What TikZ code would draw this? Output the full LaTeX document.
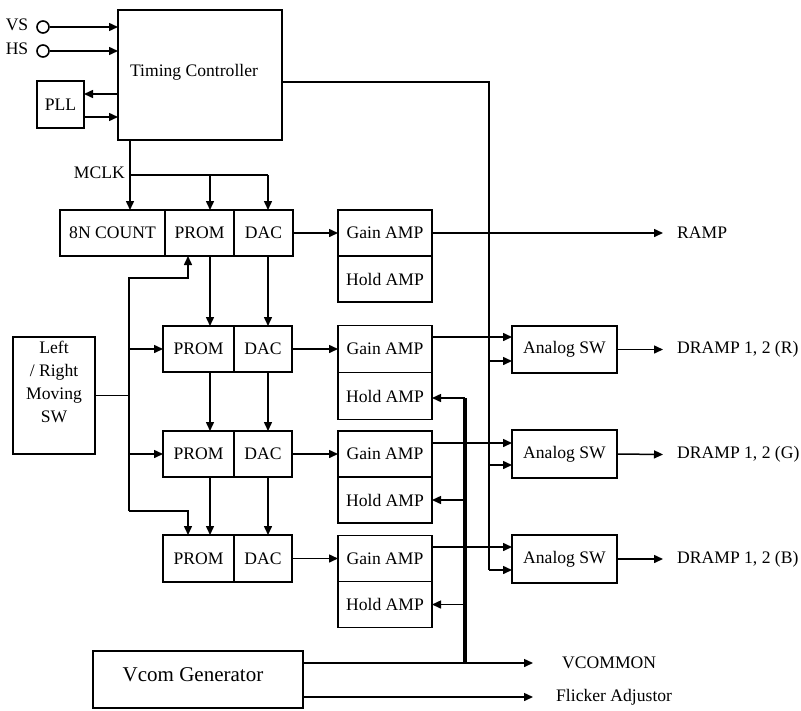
\documentclass[tikz,border=0pt]{standalone}
\usepackage{fontspec}
\setmainfont{Liberation Serif}
\usetikzlibrary{arrows.meta,calc}
\begin{document}
\begin{tikzpicture}[x=1pt,y=-1pt,
 bx/.style={draw, line width=1.6pt, inner sep=0pt, outer sep=0pt, font=\fontsize{17.6}{20}\selectfont},
 lbl/.style={inner sep=0pt, font=\fontsize{17.6}{20}\selectfont},
 ln/.style={line width=1.5pt},
 arr/.style={line width=1.5pt, -{Triangle[length=9pt,width=8pt]}},
 thk/.style={line width=3.2pt}]
\useasboundingbox (0,0) rectangle (801,710);

% --- timing controller, inputs, PLL
\node[bx, minimum width=164pt, minimum height=130pt] (tc) at (200,75) {};
\node[lbl] (tclbl) at (194,72) {Timing Controller};
\node[bx, minimum width=47pt, minimum height=47pt] (pll) at (60.5,104.5) {PLL};
\node[lbl] (vs) at (17,25) {VS};
\node[lbl] (hs) at (17,49) {HS};
\node[draw, circle, line width=1.6pt, minimum size=12pt, inner sep=0pt] (vsc) at (43,27) {};
\node[draw, circle, line width=1.6pt, minimum size=12pt, inner sep=0pt] (hsc) at (43,51) {};
\draw[arr] (vsc.east) -- (tc.west |- vsc.east);
\draw[arr] (hsc.east) -- (tc.west |- hsc.east);
\coordinate (tpa) at (118,94);
\coordinate (tpb) at (118,117);
\draw[arr] (tpa) -- (pll.east |- tpa);
\draw[arr] (pll.east |- tpb) -- (tpb);

% --- row 1
\node[bx, minimum width=105pt, minimum height=46pt] (cnt) at (112.5,233) {8N COUNT};
\node[bx, minimum width=69pt, minimum height=46pt] (p1) at (199.5,233) {PROM};
\node[bx, minimum width=59pt, minimum height=46pt] (d1) at (263.5,233) {DAC};
\node[bx, minimum width=94pt, minimum height=46pt] (g1) at (385,233) {Gain AMP};
\node[bx, minimum width=94pt, minimum height=46pt] (h1) at (385,279) {Hold AMP};

% --- row 2
\node[bx, minimum width=71pt, minimum height=46pt] (p2) at (198.5,349) {PROM};
\node[bx, minimum width=58pt, minimum height=46pt] (d2) at (263,349) {DAC};
\node[bx, minimum width=94pt, minimum height=47pt] (g2) at (385,349) {Gain AMP};
\node[bx, minimum width=94pt, minimum height=47pt] (h2) at (385,396) {Hold AMP};
\node[bx, minimum width=105pt, minimum height=47pt] (a2) at (564.5,349.5) {Analog SW};

% --- row 3
\node[bx, minimum width=71pt, minimum height=46pt] (p3) at (198.5,454) {PROM};
\node[bx, minimum width=58pt, minimum height=46pt] (d3) at (263,454) {DAC};
\node[bx, minimum width=94pt, minimum height=46pt] (g3) at (385,454) {Gain AMP};
\node[bx, minimum width=94pt, minimum height=46pt] (h3) at (385,500) {Hold AMP};
\node[bx, minimum width=105pt, minimum height=48pt] (a3) at (564.5,454) {Analog SW};

% --- row 4
\node[bx, minimum width=71pt, minimum height=47pt] (p4) at (198.5,558.5) {PROM};
\node[bx, minimum width=58pt, minimum height=47pt] (d4) at (263,558.5) {DAC};
\node[bx, minimum width=94pt, minimum height=46pt] (g4) at (385,558.5) {Gain AMP};
\node[bx, minimum width=94pt, minimum height=46pt] (h4) at (385,604.5) {Hold AMP};
\node[bx, minimum width=105pt, minimum height=48pt] (a4) at (564.5,559) {Analog SW};

% --- left/right moving SW
\node[bx, minimum width=82pt, minimum height=117pt] (lr) at (54,395.5) {};
\node[lbl, align=center, anchor=north, font=\fontsize{17.6}{23}\selectfont] (lrt) at (54,341) {Left\\/ Right\\Moving\\SW};

% --- Vcom generator
\node[bx, minimum width=210pt, minimum height=57pt] (vcom) at (198,679.5) {};
\node[lbl, font=\fontsize{21}{24}\selectfont] (vcomt) at (193,675) {Vcom Generator};

% --- output labels
\node[lbl, anchor=west] (ramp) at (677,233) {RAMP};
\node[lbl, anchor=west] (drr) at (677,349.5) {DRAMP 1, 2 (R)};
\node[lbl, anchor=west] (drg) at (677,454.5) {DRAMP 1, 2 (G)};
\node[lbl, anchor=west] (drb) at (677,559) {DRAMP 1, 2 (B)};
\node[lbl, anchor=west] (vcm) at (562,663) {VCOMMON};
\node[lbl, anchor=west] (flk) at (556,697) {Flicker Adjustor};

% --- MCLK distribution
\node[lbl, anchor=east] (mclk) at (125,173) {MCLK};
\coordinate (mk) at (130,175);
\coordinate (mb1) at (210,175);
\coordinate (mb2) at (268,175);
\draw[arr] (tc.south -| mk) -- (cnt.north -| mk);
\draw[ln] (mk) -- (mb2);
\draw[arr] (mb1) -- (mb1 |- p1.north);
\draw[arr] (mb2) -- (mb2 |- d1.north);

% --- PROM / DAC cascades
\draw[arr] (p1.south -| mb1) -- (p2.north -| mb1);
\draw[arr] (p2.south -| mb1) -- (p3.north -| mb1);
\draw[arr] (p3.south -| mb1) -- (p4.north -| mb1);
\draw[arr] (d1.south -| mb2) -- (d2.north -| mb2);
\draw[arr] (d2.south -| mb2) -- (d3.north -| mb2);
\draw[arr] (d3.south -| mb2) -- (d4.north -| mb2);

% --- left/right bus
\coordinate (bt) at (129,278);
\coordinate (bb) at (129,511);
\coordinate (bt2) at (188,278);
\coordinate (bb2) at (188,511);
\draw[ln] (lr.east) -- (lr.east -| bt);
\draw[arr] (bb) -- (bt) -- (bt2) -- (bt2 |- p1.south);
\draw[arr] (bb) -- (bb2) -- (bb2 |- p4.north);
\draw[arr] (bt |- p2.west) -- (p2.west);
\draw[arr] (bt |- p3.west) -- (p3.west);

% --- DAC to Gain AMP
\draw[arr] (d1.east) -- (g1.west);
\draw[arr] (d2.east) -- (g2.west);
\draw[arr] (d3.east) -- (g3.west);
\draw[arr] (d4.east) -- (g4.west);

% --- RAMP
\draw[arr] (g1.east) -- ([xshift=-14pt]ramp.west);

% --- timing line to analog switches
\coordinate (tj) at (489,82);
\coordinate (a2u) at ([yshift=12.5pt]a2.west);
\coordinate (a2l) at ([yshift=-11.5pt]a2.west);
\coordinate (a3u) at ([yshift=11pt]a3.west);
\coordinate (a3l) at ([yshift=-11pt]a3.west);
\coordinate (a4u) at ([yshift=12pt]a4.west);
\coordinate (a4l) at ([yshift=-11pt]a4.west);
\draw[ln] (tc.east |- tj) -- (tj) -- (tj |- a4l);
\draw[arr] (g2.east |- a2u) -- (a2u);
\draw[arr] (g3.east |- a3u) -- (a3u);
\draw[arr] (g4.east |- a4u) -- (a4u);
\draw[arr] (tj |- a2l) -- (a2l);
\draw[arr] (tj |- a3l) -- (a3l);
\draw[arr] (tj |- a4l) -- (a4l);

% --- analog outputs
\draw[arr] (a2.east) -- ([xshift=-14pt]drr.west);
\draw[arr] (a3.east) -- ([xshift=-14pt]drg.west);
\draw[arr] (a4.east) -- ([xshift=-14pt]drb.west);

% --- Vcom lines
\coordinate (ve) at (533,663);
\coordinate (fe) at (533,697);
\coordinate (vt) at (465,398);
\coordinate (vb) at (465,663);
\draw[arr] (vcom.east |- ve) -- (ve);
\draw[arr] (vcom.east |- fe) -- (fe);
\draw[thk] (vt) -- (vb);
\draw[arr] (vt) -- (vt -| h2.east);
\draw[arr] (vt |- h3.east) -- (h3.east);
\draw[arr] (vt |- h4.east) -- (h4.east);
\end{tikzpicture}
\end{document}
